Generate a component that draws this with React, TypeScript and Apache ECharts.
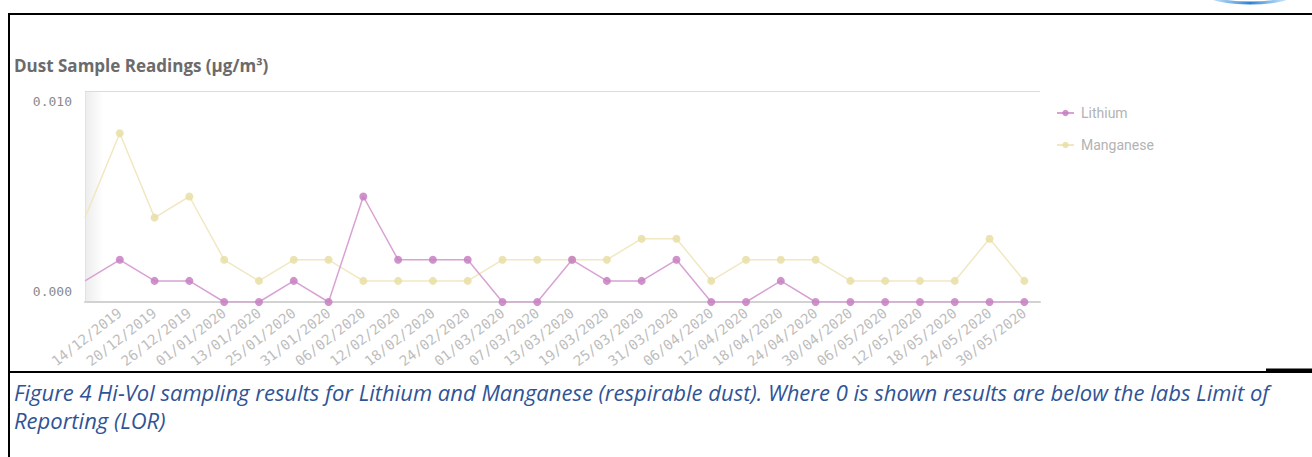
import React, { useEffect, useRef } from "react";
import * as echarts from "echarts";

// index 0 is the partially visible sample before the first labelled date (label hidden)
const dates = [
  "08/12/2019",
  "14/12/2019", "20/12/2019", "26/12/2019", "01/01/2020", "13/01/2020", "25/01/2020",
  "31/01/2020", "06/02/2020", "12/02/2020", "18/02/2020", "24/02/2020", "01/03/2020",
  "07/03/2020", "13/03/2020", "19/03/2020", "25/03/2020", "31/03/2020", "06/04/2020",
  "12/04/2020", "18/04/2020", "24/04/2020", "30/04/2020", "06/05/2020", "12/05/2020",
  "18/05/2020", "24/05/2020", "30/05/2020",
];
const lithium = [
  0.001,
  0.002, 0.001, 0.001, 0, 0, 0.001, 0, 0.005, 0.002, 0.002, 0.002, 0, 0,
  0.002, 0.001, 0.001, 0.002, 0, 0, 0.001, 0, 0, 0, 0, 0, 0, 0,
];
const manganese = [
  0.004,
  0.008, 0.004, 0.005, 0.002, 0.001, 0.002, 0.002, 0.001, 0.001, 0.001, 0.001, 0.002, 0.002,
  0.002, 0.002, 0.003, 0.003, 0.001, 0.002, 0.002, 0.002, 0.001, 0.001, 0.001, 0.001, 0.003, 0.001,
];
const yTicks = [0, 0.01];
const title = "Dust Sample Readings (µg/m³)";
const caption =
  "Figure 4 Hi-Vol sampling results for Lithium and Manganese (respirable dust). Where 0 is shown results are below the labs Limit of\nReporting (LOR)";

const toSeriesData = (arr: number[]) =>
  arr.map((v, i) => (i === 0 ? { value: [i, v], symbolSize: 0 } : { value: [i, v] }));

export default function App() {
  const ref = useRef<HTMLDivElement>(null);
  useEffect(() => {
    if (!ref.current) return;
    const chart = echarts.init(ref.current, undefined, { renderer: "svg" });
    const liColor = "#c77fc2";
    const mnColor = "#e9dea5";
    chart.setOption({
      animation: false,
      backgroundColor: "#ffffff",
      title: {
        text: title,
        left: 9,
        top: 52,
        textStyle: {
          fontFamily: "Open Sans",
          fontWeight: "bold",
          fontSize: 17,
          color: "#6b6b6b",
        },
      },
      legend: {
        orient: "vertical",
        left: 1051,
        top: 101,
        itemWidth: 17,
        itemHeight: 8,
        itemGap: 18,
        textStyle: {
          fontFamily: "Roboto",
          fontSize: 14,
          color: "#b3b3b3",
          padding: [0, 0, 0, 2],
        },
        data: ["Lithium", "Manganese"],
      },
      grid: { left: 85, right: 272, top: 91, bottom: 155 },
      xAxis: {
        type: "value",
        min: 0,
        max: dates.length - 1 + 0.45,
        interval: 1,
        axisLine: { show: true, lineStyle: { color: "#d2d2d2", width: 2 } },
        axisTick: { show: false },
        splitLine: { show: false },
        axisLabel: {
          rotate: 38,
          margin: 9,
          fontFamily: "DejaVu Sans Mono",
          fontSize: 14,
          color: "#bdbdbd",
          showMaxLabel: false,
          formatter: (v: number) =>
            Number.isInteger(v) && v >= 1 && v < dates.length ? dates[v] : "",
        },
      },
      yAxis: {
        type: "value",
        min: yTicks[0],
        max: yTicks[1],
        interval: yTicks[1] - yTicks[0],
        axisLine: { show: true, lineStyle: { color: "#e2e2e2", width: 1 } },
        axisTick: { show: false },
        splitLine: { show: true, lineStyle: { color: "#dcdcdc", width: 1 } },
        axisLabel: {
          margin: 13,
          fontFamily: "DejaVu Sans Mono",
          fontSize: 13,
          color: "#8a8a8a",
          verticalAlignMaxLabel: "top",
          verticalAlignMinLabel: "bottom",
          padding: [4, 0, 4, 0],
          formatter: (v: number) => v.toFixed(3),
        },
      },
      series: [
        {
          name: "Lithium",
          type: "line",
          data: toSeriesData(lithium),
          symbol: "circle",
          symbolSize: 8,
          z: 3,
          itemStyle: { color: liColor, opacity: 0.85 },
          lineStyle: { color: "#d8a2d4", width: 1.5 },
        },
        {
          name: "Manganese",
          type: "line",
          data: toSeriesData(manganese),
          symbol: "circle",
          symbolSize: 8,
          z: 2,
          itemStyle: { color: mnColor, opacity: 0.85 },
          lineStyle: { color: "#f1e8c2", width: 1.5 },
        },
      ],
      graphic: [
        {
          type: "rect",
          z: 0,
          silent: true,
          shape: { x: 86, y: 92, width: 18, height: 209 },
          style: {
            fill: new echarts.graphic.LinearGradient(0, 0, 1, 0, [
              { offset: 0, color: "rgba(0,0,0,0.07)" },
              { offset: 1, color: "rgba(0,0,0,0)" },
            ]),
          },
        },
        { type: "line", shape: { x1: 8, y1: 14, x2: 1312, y2: 14 }, style: { stroke: "#000", lineWidth: 2 } },
        { type: "line", shape: { x1: 9, y1: 14, x2: 9, y2: 457 }, style: { stroke: "#000", lineWidth: 2 } },
        { type: "line", shape: { x1: 8, y1: 372, x2: 1312, y2: 372 }, style: { stroke: "#000", lineWidth: 2 } },
        { type: "line", shape: { x1: 1266, y1: 370, x2: 1312, y2: 370 }, style: { stroke: "#000", lineWidth: 3 } },
        {
          type: "ellipse",
          shape: { cx: 1250, cy: -6, rx: 42, ry: 9 },
          style: {
            fill: "none",
            stroke: new echarts.graphic.LinearGradient(0, 0, 1, 0, [
              { offset: 0, color: "rgba(120,190,240,0.4)" },
              { offset: 0.5, color: "#2f7fd0" },
              { offset: 1, color: "rgba(120,190,240,0.3)" },
            ]),
            lineWidth: 3,
          },
        },
        {
          type: "text",
          left: 14,
          top: 378,
          style: {
            text: caption,
            font: 'italic 22px "Open Sans"',
            lineHeight: 28,
            fill: "#2f5496",
          },
        },
      ],
    });
    return () => chart.dispose();
  }, []);
  return (
    <div
      ref={ref}
      style={{ position: "absolute", left: 0, top: 0, width: 1312, height: 457 }}
    />
  );
}
